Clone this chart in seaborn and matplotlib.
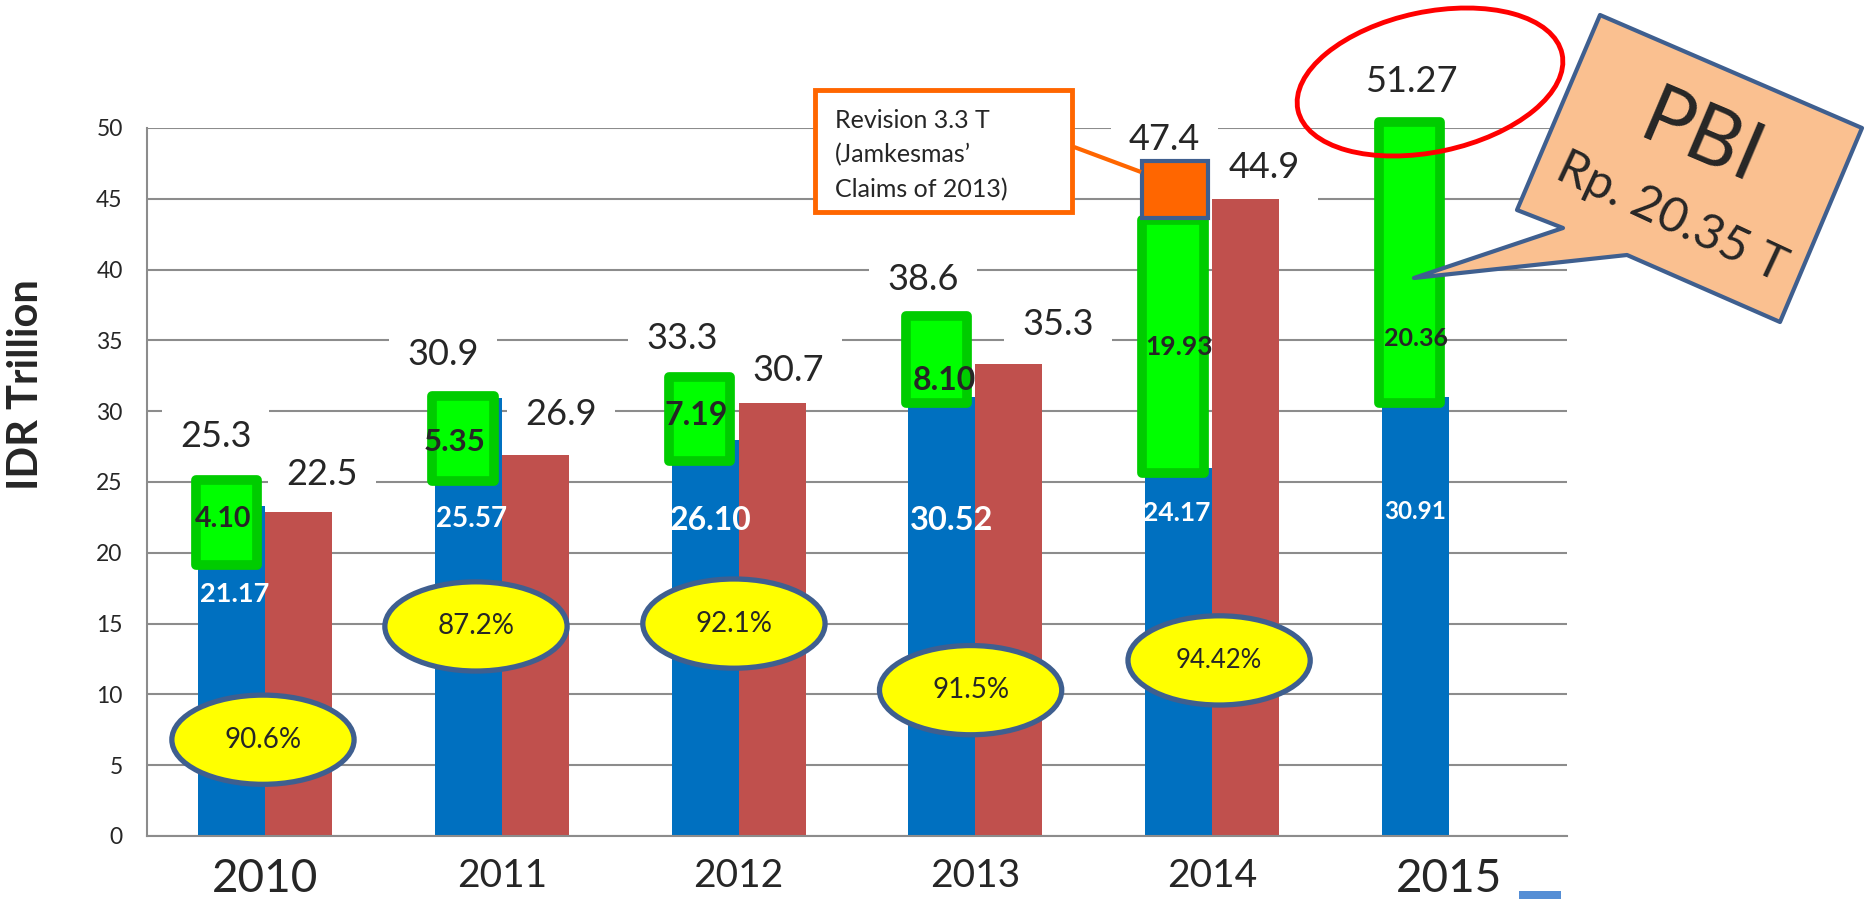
import numpy as np
import pandas as pd
import matplotlib.pyplot as plt
import seaborn as sns
from matplotlib.patches import Ellipse, Rectangle, Polygon

# Data (IDR trillion)
YEARS = ['2010', '2011', '2012', '2013', '2014', '2015']
BLUE_BAR = [23.3, 30.9, 28.0, 31.0, 26.0, 31.0]
RED_BAR = [22.9, 26.9, 30.6, 33.3, 45.0]
GREEN_LOW = [19.15, 25.05, 26.45, 30.55, 25.65, 30.55]
GREEN_HIGH = [25.15, 31.05, 32.45, 36.75, 43.5, 50.45]
REVISION_LOW, REVISION_HIGH = 43.64, 47.66

BLUE_LABELS = ['21.17', '25.57', '26.10', '30.52', '24.17', '30.91']
GREEN_LABELS = ['4.10', '5.35', '7.19', '8.10', '19.93', '20.36']
TOTAL_LABELS = ['25.3', '30.9', '33.3', '38.6', '47.4', '51.27']
RED_LABELS = ['22.5', '26.9', '30.7', '35.3', '44.9']
RATIO_LABELS = ['90.6%', '87.2%', '92.1%', '91.5%', '94.42%']
REVISION_LINES = ['Revision 3.3 T', '(Jamkesmas\u2019', 'Claims of 2013)']

# Layout of the annotations (category offsets / y positions)
TOTAL_POS = [(-0.21, 28.2), (-0.25, 34.0), (-0.24, 35.1), (-0.22, 39.3), (-0.20, 49.2), (-0.16, 53.3)]
RED_POS = [(0.24, 25.5), (0.25, 29.8), (0.21, 32.9), (0.35, 36.1), (0.22, 47.2)]
GREEN_POS = [(-0.18, 22.4), (-0.20, 27.8), (-0.18, 29.7), (-0.13, 32.2), (-0.14, 34.5), (-0.14, 35.1)]
GREEN_SIZE = [20.5, 22.5, 23, 23, 19, 18]
BLUE_POS = [(-0.13, 17.1), (-0.13, 22.4), (-0.12, 22.3), (-0.10, 22.3), (-0.15, 22.8), (-0.14, 22.9)]
BLUE_SIZE = [19.5, 20, 23, 23.5, 19, 17.5]
RATIO_POS = [(-0.01, 6.8), (-0.11, 14.8), (-0.02, 15.0), (-0.02, 10.3), (0.03, 12.4)]
RATIO_SIZE = [20, 20, 20, 20, 18.5]

BLUE = '#0070C0'
RED = '#C0504D'
GRID = '#8C8C8C'
OUTLINE = '#3F5F8F'

sns.set_style('white')
plt.rcParams['font.family'] = ['Lato', 'DejaVu Sans']

W, H = 1876, 899
fig = plt.figure(figsize=(W / 100, H / 100), dpi=100)
ax = fig.add_axes([147 / W, 1 - 836 / H, 1420 / W, (836 - 128) / H])

# Bars
df = pd.DataFrame({
    'year': YEARS + YEARS[:len(RED_BAR)],
    'series': ['blue'] * len(BLUE_BAR) + ['red'] * len(RED_BAR),
    'value': BLUE_BAR + RED_BAR,
})
sns.barplot(data=df, x='year', y='value', hue='series', order=YEARS,
            hue_order=['blue', 'red'], palette={'blue': BLUE, 'red': RED},
            width=0.566, saturation=1, linewidth=0, legend=False,
            ax=ax, zorder=2)

x = np.arange(len(YEARS))
green_h = np.array(GREEN_HIGH) - np.array(GREEN_LOW)
bars = ax.bar(x - 0.165, green_h, bottom=GREEN_LOW, width=0.26,
              color='#00FF00', edgecolor='#00CC00', linewidth=7,
              zorder=2.5, clip_on=False)
for b in bars:
    b.set_joinstyle('round')
ax.bar(4 - 0.155, REVISION_HIGH - REVISION_LOW, bottom=REVISION_LOW, width=0.28,
       color='#FF6600', edgecolor=OUTLINE, linewidth=3, zorder=2.6, clip_on=False)

# Axes styling
ax.set_xlim(-0.5, 5.5)
ax.set_ylim(0, 50)
ax.set_xlabel('')
ax.set_ylabel('')
ax.set_yticks(range(0, 51, 5))
ax.set_xticks(x)
ax.set_xticklabels(YEARS)
ax.set_xticks(np.arange(-0.5, 6, 1), minor=True)
ax.yaxis.grid(True, color=GRID, linewidth=1.5)
ax.xaxis.grid(False)
ax.set_axisbelow(True)
for s in ['top', 'right']:
    ax.spines[s].set_visible(False)
for s in ['left', 'bottom']:
    ax.spines[s].set_color(GRID)
    ax.spines[s].set_linewidth(1.5)
ax.tick_params(axis='y', length=6.5, width=1.2, color=GRID, labelsize=16.5, pad=11)
ax.tick_params(axis='x', which='major', length=0, pad=16)
ax.tick_params(axis='x', which='minor', length=6.5, width=1.2, color=GRID, direction='out')
for lab, size in zip(ax.get_xticklabels(), [33, 28, 28, 28, 28, 33]):
    lab.set_fontsize(size)

fig.text(26 / W, 1 - 385 / H, 'IDR Trillion', rotation=90, fontsize=30,
         fontweight='bold', ha='center', va='center')

# Value labels
box = dict(boxstyle='square,pad=0.5', fc='white', ec='none')
for i, lab in enumerate(TOTAL_LABELS):
    dx, yy = TOTAL_POS[i]
    ax.text(i + dx, yy, lab, fontsize=26, ha='center', va='center', bbox=box, zorder=1.5)
for i, lab in enumerate(RED_LABELS):
    dx, yy = RED_POS[i]
    ax.text(i + dx, yy, lab, fontsize=26, ha='center', va='center', bbox=box, zorder=1.5)
for i, lab in enumerate(GREEN_LABELS):
    dx, yy = GREEN_POS[i]
    ax.text(i + dx, yy, lab, fontsize=GREEN_SIZE[i], fontweight='bold',
            ha='center', va='center', zorder=3)
for i, lab in enumerate(BLUE_LABELS):
    dx, yy = BLUE_POS[i]
    ax.text(i + dx, yy, lab, fontsize=BLUE_SIZE[i], fontweight='bold', color='white',
            ha='center', va='center', zorder=3)
for i, lab in enumerate(RATIO_LABELS):
    dx, yy = RATIO_POS[i]
    ax.add_patch(Ellipse((i + dx, yy), 0.77, 6.3, fc='#FFFF00', ec=OUTLINE,
                         lw=3.8, zorder=4, clip_on=False))
    ax.text(i + dx, yy, lab, fontsize=RATIO_SIZE[i], ha='center', va='center', zorder=4.5)

# Callouts drawn in figure pixels
ov = fig.add_axes([0, 0, 1, 1], zorder=5)
ov.set_xlim(0, W)
ov.set_ylim(H, 0)
ov.axis('off')
ov.patch.set_alpha(0)

ov.add_patch(Rectangle((815, 90), 257, 122, fc='white', ec='#FF6600', lw=3.5))
ov.plot([1074, 1141], [147, 172], color='#FF6600', lw=3, solid_capstyle='butt')
for k, line in enumerate(REVISION_LINES):
    ov.text(835, 120 + 35 * k, line, fontsize=18, ha='left', va='center')

ov.add_patch(Ellipse((1430, 82), 270, 140, angle=-12, fill=False, ec='#FF0000', lw=3.5))

bubble = [(1600, 15), (1862, 128), (1780, 322), (1627, 255),
          (1414, 278), (1563, 228), (1517, 210)]
ov.add_patch(Polygon(bubble, closed=True, fc='#FAC090', ec=OUTLINE, lw=3, joinstyle='round'))
ov.text(1701, 140, 'PBI', fontsize=58, rotation=-23, ha='center', va='center',
        rotation_mode='anchor')
ov.text(1671, 217, 'Rp. 20.35 T', fontsize=35, rotation=-25, ha='center', va='center',
        rotation_mode='anchor')

ov.add_patch(Rectangle((1519, 891), 42, 10, fc='#558ED5', ec='none'))

fig.savefig('out.png', dpi=100)
